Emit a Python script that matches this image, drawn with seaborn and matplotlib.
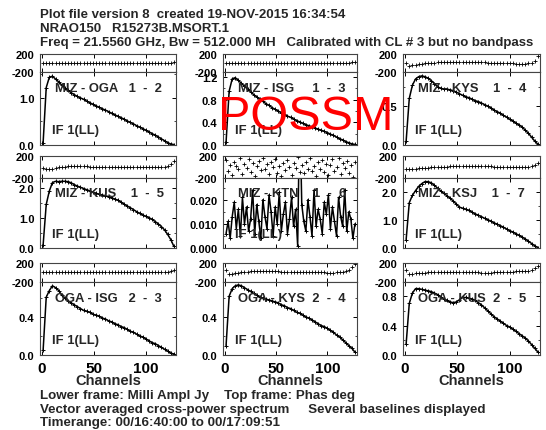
import matplotlib
matplotlib.use("Agg")
import matplotlib.pyplot as plt
from matplotlib.ticker import FixedLocator, FormatStrFormatter, AutoMinorLocator
import seaborn as sns

sns.set_style("ticks")
plt.rcParams['font.family'] = ['Liberation Sans', 'DejaVu Sans']
plt.rcParams['font.weight'] = 'bold'
plt.rcParams['axes.linewidth'] = 0.8

# 채널 (3채널 간격으로 읽은 값)
CH = list(range(1, 129, 3))
CH_KTN = list(range(1, 129, 2))

# 진폭 (Milli Ampl Jy)
amp_1_2 = [0.05, 1.22, 1.44, 1.46, 1.40, 1.34, 1.27, 1.21, 1.16, 1.11, 1.07, 1.03, 1.00, 0.97, 0.93,
           0.90, 0.86, 0.83, 0.80, 0.77, 0.74, 0.71, 0.67, 0.64, 0.61, 0.58, 0.55, 0.51, 0.48, 0.45,
           0.41, 0.38, 0.35, 0.31, 0.28, 0.24, 0.21, 0.17, 0.13, 0.09, 0.05, 0.02, 0.01]
amp_1_3 = [0.05, 0.95, 1.17, 1.19, 1.14, 1.09, 1.04, 0.99, 0.94, 0.89, 0.85, 0.81, 0.77, 0.73, 0.70,
           0.66, 0.63, 0.60, 0.57, 0.54, 0.51, 0.49, 0.46, 0.43, 0.41, 0.38, 0.36, 0.34, 0.32, 0.30,
           0.28, 0.26, 0.24, 0.22, 0.19, 0.17, 0.14, 0.11, 0.09, 0.06, 0.04, 0.02, 0.01]
amp_1_4 = [0.05, 0.60, 0.77, 0.85, 0.88, 0.89, 0.88, 0.86, 0.83, 0.79, 0.75, 0.73, 0.72, 0.72, 0.71,
           0.70, 0.68, 0.66, 0.64, 0.62, 0.61, 0.59, 0.57, 0.56, 0.54, 0.52, 0.50, 0.48, 0.45, 0.43,
           0.41, 0.38, 0.36, 0.33, 0.31, 0.28, 0.26, 0.23, 0.19, 0.15, 0.10, 0.05, 0.01]
amp_1_5 = [0.10, 1.45, 1.90, 2.18, 2.22, 2.21, 2.22, 2.22, 2.21, 2.17, 2.11, 2.06, 2.02, 1.98, 1.94,
           1.90, 1.86, 1.82, 1.79, 1.76, 1.74, 1.71, 1.67, 1.63, 1.59, 1.53, 1.46, 1.40, 1.34, 1.28,
           1.21, 1.15, 1.10, 1.05, 1.01, 0.95, 0.88, 0.80, 0.71, 0.60, 0.45, 0.28, 0.05]
amp_1_6 = [0.006, 0.011, 0.004, 0.013, 0.019, 0.008, 0.016, 0.005, 0.021, 0.010,
           0.017, 0.007, 0.012, 0.024, 0.006, 0.018, 0.011, 0.004, 0.020, 0.013,
           0.008, 0.022, 0.015, 0.005, 0.017, 0.010, 0.023, 0.007, 0.014, 0.019,
           0.006, 0.012, 0.021, 0.009, 0.016, 0.001, 0.060, 0.018, 0.011, 0.007,
           0.020, 0.013, 0.005, 0.024, 0.009, 0.016, 0.012, 0.006, 0.019, 0.014,
           0.022, 0.008, 0.017, 0.011, 0.005, 0.021, 0.013, 0.009, 0.024, 0.007,
           0.015, 0.012, 0.004, 0.010]
amp_1_7 = [0.30, 1.62, 1.88, 2.05, 2.20, 2.30, 2.37, 2.37, 2.33, 2.24, 2.14, 2.04, 1.95, 1.87, 1.78,
           1.68, 1.57, 1.46, 1.42, 1.38, 1.34, 1.28, 1.22, 1.17, 1.12, 1.06, 1.01, 0.96, 0.90, 0.85,
           0.80, 0.74, 0.68, 0.62, 0.57, 0.51, 0.45, 0.39, 0.32, 0.24, 0.16, 0.08, 0.01]
amp_2_3 = [0.05, 0.61, 0.68, 0.73, 0.71, 0.68, 0.63, 0.60, 0.57, 0.55, 0.53, 0.51, 0.49, 0.47, 0.46,
           0.45, 0.43, 0.42, 0.41, 0.39, 0.38, 0.36, 0.35, 0.33, 0.32, 0.30, 0.29, 0.27, 0.25, 0.24,
           0.22, 0.20, 0.19, 0.17, 0.15, 0.13, 0.12, 0.10, 0.08, 0.06, 0.04, 0.02, 0.01]
amp_2_4 = [0.10, 0.62, 0.70, 0.73, 0.74, 0.73, 0.71, 0.69, 0.67, 0.65, 0.63, 0.61, 0.60, 0.59, 0.58,
           0.57, 0.56, 0.55, 0.53, 0.52, 0.50, 0.49, 0.47, 0.45, 0.44, 0.42, 0.40, 0.39, 0.37, 0.35,
           0.33, 0.31, 0.30, 0.28, 0.26, 0.24, 0.21, 0.19, 0.16, 0.13, 0.10, 0.07, 0.03]
amp_2_5 = [0.15, 0.70, 0.84, 0.90, 0.90, 0.89, 0.88, 0.87, 0.86, 0.84, 0.82, 0.79, 0.76, 0.74, 0.72,
           0.71, 0.72, 0.75, 0.78, 0.78, 0.77, 0.76, 0.74, 0.71, 0.68, 0.64, 0.60, 0.56, 0.52, 0.49,
           0.46, 0.43, 0.40, 0.38, 0.35, 0.32, 0.29, 0.26, 0.23, 0.19, 0.14, 0.09, 0.04]

# 위상 (Phas deg)
ph_1_2 = [2, -3, 0, 4, -2, 1, 3, -4, 0, 2, -1, 3, 0, -2, 4, 1, -3, 0, 2, -1, 3, 1, -2, 0, 4, -1,
          2, 0, -3, 1, 3, -2, 0, 2, -1, 4, 0, -2, 3, 1, 5, 8, 30]
ph_1_3 = [-5, -2, 0, 3, -1, 2, -3, 1, 0, -2, 3, 1, -1, 2, 0, -3, 1, 2, -1, 0, 3, -2, 1, 0, 2, -1,
          3, 1, 0, 2, -2, 1, 3, 0, 2, 4, 1, 3, 5, 6, 9, 12, 20]
ph_1_4 = [-10, -65, -55, -40, -25, -15, -5, 0, 5, 10, 14, 18, 20, 22, 24, 25, 26, 27, 27, 26, 25,
          23, 21, 19, 17, 14, 11, 8, 5, 2, 0, -3, -6, -8, -10, -12, -13, -13, -12, -8, 5, 45, 150]
ph_1_5 = [-10, -45, -40, -30, -18, -8, 0, 6, 10, 13, 14, 14, 13, 12, 10, 8, 6, 4, 2, 0, -2, -3,
          -5, -6, -7, -7, -8, -8, -8, -7, -7, -6, -6, -5, -5, -4, -3, -2, 0, 8, 25, 60, 115]
ph_1_6 = [120, -80, 35, -150, 90, 10, -40, 160, -120, 60,
          -10, 140, -90, 75, -160, 20, 110, -55, 170, -30,
          50, -130, 95, -5, 150, -100, 25, -170, 80, -60,
          130, 0, -140, 65, -20, 175, -85, 45, -115, 100,
          -45, 155, -75, 15, -165, 85, -35, 125, -95, 55,
          -150, 30, 145, -70, 5, 165, -125, 70, -15, 115,
          -105, 40, -175, 90]
ph_1_7 = [-45, -40, -35, -30, -25, -20, -16, -12, -8, -5, -2, 1, 4, 7, 10, 12, 14, 16, 18, 19, 20,
          21, 21, 20, 19, 17, 14, 11, 8, 5, 2, 0, -3, -5, -7, -8, -8, -8, -6, -2, 10, 35, 70]
ph_2_3 = [10, 12, 9, 11, 13, 10, 12, 11, 9, 12, 10, 13, 11, 10, 12, 9, 11, 13, 10, 12, 11, 9, 12,
          10, 11, 13, 10, 12, 9, 11, 12, 10, 13, 11, 10, 12, 9, 11, 12, 14, 18, 30, 60]
ph_2_4 = [55, -40, -30, -15, 0, 10, 15, 19, 22, 25, 27, 28, 28, 28, 27, 26, 24, 22, 20, 18, 16, 14,
          12, 10, 9, 8, 7, 6, 5, 4, 3, 2, 1, 0, 0, 0, 2, 5, 12, 25, 55, 110, 175]
ph_2_5 = [50, -40, -30, -18, -8, -2, 0, 3, 6, 8, 10, 12, 13, 14, 14, 14, 14, 13, 12, 10, 8, 6, 4,
          2, 0, -1, -1, 0, 2, 5, 8, 12, 15, 18, 21, 24, 26, 28, 30, 35, 50, 85, 140]

# 패널 설정: (라벨, 채널, 진폭, 위상, y상한, y눈금, 형식)
panels = [
    ("MIZ - OGA   1  -  2", CH, amp_1_2, ph_1_2, 1.55, [0.0, 1.0], '%.1f'),
    ("MIZ - ISG     1  -  3", CH, amp_1_3, ph_1_3, 1.29, [0.0, 0.4, 0.8, 1.2], '%.1f'),
    ("MIZ - KYS    1  -  4", CH, amp_1_4, ph_1_4, 0.94, [0.0, 0.5], '%.1f'),
    ("MIZ - KUS    1  -  5", CH, amp_1_5, ph_1_5, 2.33, [0.0, 1.0, 2.0], '%.1f'),
    ("MIZ - KTN    1  -  6", CH_KTN, amp_1_6, ph_1_6, 0.029, [0.0, 0.01, 0.02], '%.3f'),
    ("MIZ - KSJ    1  -  7", CH, amp_1_7, ph_1_7, 2.5, [0.0, 1.0, 2.0], '%.1f'),
    ("OGA - ISG   2  -  3", CH, amp_2_3, ph_2_3, 0.77, [0.0, 0.4], '%.1f'),
    ("OGA - KYS  2  -  4", CH, amp_2_4, ph_2_4, 0.77, [0.0, 0.4], '%.1f'),
    ("OGA - KUS  2  -  5", CH, amp_2_5, ph_2_5, 0.99, [0.0, 0.4, 0.8], '%.1f'),
]

W, H = 546, 431
fig = plt.figure(figsize=(W / 100, H / 100), dpi=100)
fig.patch.set_facecolor('white')

col_x = [(40, 136), (223, 134), (403, 137)]
row_y = [(55, 73, 146), (157, 179, 249), (264, 283, 356)]

for i, (label, ch, amp, ph, ytop, yt, fmt) in enumerate(panels):
    r, c = divmod(i, 3)
    x0, w = col_x[c]
    top, mid, bot = row_y[r]

    ax_ph = fig.add_axes([x0 / W, 1 - mid / H, w / W, (mid - top) / H])
    ax_amp = fig.add_axes([x0 / W, 1 - bot / H, w / W, (bot - mid) / H])

    # 위상 (윗 프레임)
    sns.scatterplot(x=ch, y=ph, ax=ax_ph, marker='+', s=5, color='black',
                    linewidth=0.6, legend=False)
    ax_ph.set_ylim(-200, 200)
    ax_ph.set_yticks([-200, 200])
    ax_ph.set_yticklabels(['-200', '200'])

    # 진폭 (아랫 프레임)
    sns.lineplot(x=ch, y=amp, ax=ax_amp, color='black', lw=1.1, marker='+',
                 markersize=3, markeredgewidth=0.7, markeredgecolor='black', legend=False)
    ax_amp.set_ylim(0, ytop)
    ax_amp.yaxis.set_major_locator(FixedLocator(yt))
    ax_amp.yaxis.set_major_formatter(FormatStrFormatter(fmt))
    ax_amp.yaxis.set_minor_locator(AutoMinorLocator(2))

    for ax in (ax_ph, ax_amp):
        ax.set_xlim(-2, 129)
        ax.xaxis.set_major_locator(FixedLocator([0, 50, 100]))
        ax.tick_params(direction='in', length=3, width=0.7, top=True, right=True,
                       labelsize=8, pad=4, colors='black')
        ax.tick_params(which='minor', direction='in', length=1.5, width=0.6, right=True, left=True)
        ax.set_xlabel('')
        ax.set_ylabel('')
        for s in ax.spines.values():
            s.set_color('#444444')
    ax_ph.tick_params(labelbottom=False)

    if r == 2:
        ax_amp.tick_params(axis='x', labelbottom=True, labelsize=11, pad=4)
        ax_amp.set_xlabel('Channels', fontsize=10.5, fontweight='bold', labelpad=-1)
    else:
        ax_amp.tick_params(labelbottom=False)

    ax_amp.text(0.11, 0.78, label, transform=ax_amp.transAxes, ha='left', va='center',
                fontsize=9.4, fontweight='bold')
    ax_amp.text(0.09, 0.2, 'IF 1(LL)', transform=ax_amp.transAxes, ha='left', va='center',
                fontsize=9.4, fontweight='bold')

# 머리말
header = ["Plot file version 8  created 19-NOV-2015 16:34:54",
          "NRAO150   R15273B.MSORT.1",
          "Freq = 21.5560 GHz, Bw = 512.000 MH   Calibrated with CL # 3 but no bandpass"]
for txt, yp in zip(header, [15, 29, 43]):
    fig.text(40 / W, 1 - yp / H, txt, ha='left', va='center', fontsize=9.5, fontweight='bold')

footer = ["Lower frame: Milli Ampl Jy    Top frame: Phas deg",
          "Vector averaged cross-power spectrum     Several baselines displayed",
          "Timerange: 00/16:40:00 to 00/17:09:51"]
for txt, yp in zip(footer, [396, 410, 423]):
    fig.text(40 / W, 1 - yp / H, txt, ha='left', va='center', fontsize=9.6, fontweight='bold')

fig.text(306 / W, 1 - 118 / H, 'POSSM', ha='center', va='center', color='red',
         fontsize=35, fontweight='normal')

fig.savefig('out.png', dpi=100, facecolor='white')
